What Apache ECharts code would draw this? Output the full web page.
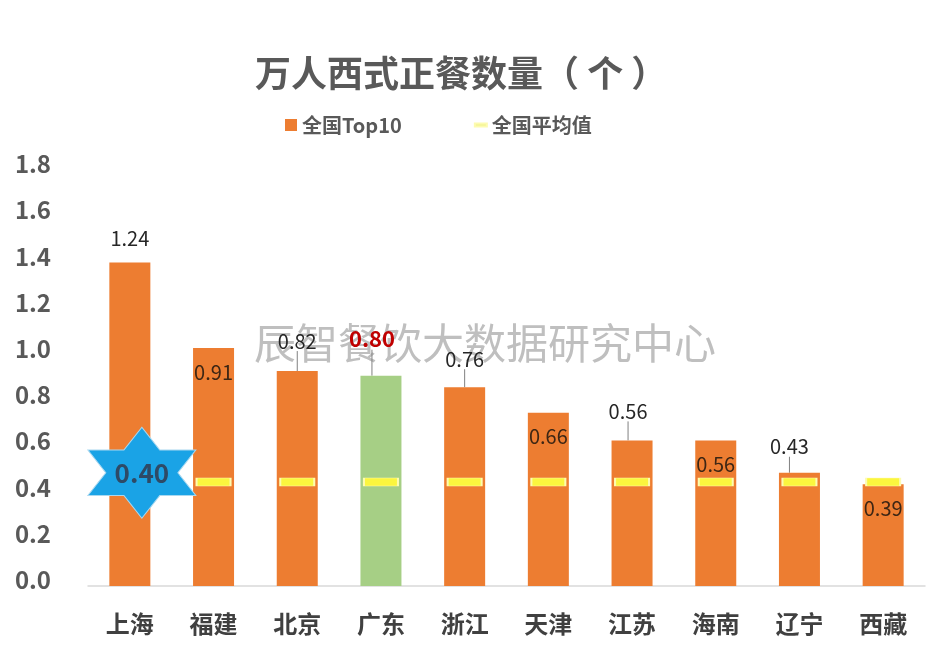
<!DOCTYPE html>
<html>
<head>
<meta charset="utf-8">
<script src="https://cdn.jsdelivr.net/npm/echarts@6/dist/echarts.min.js"></script>
<style>
html,body{margin:0;padding:0;background:#fff;}
#c{width:942px;height:655px;}
</style>
</head>
<body>
<div id="c"></div>
<script>
const categories = ['上海','福建','北京','广东','浙江','天津','江苏','海南','辽宁','西藏'];
const barValues = [1.40, 1.03, 0.93, 0.91, 0.86, 0.75, 0.63, 0.63, 0.49, 0.44];
const barLabels = ['1.24','0.91','0.82','0.80','0.76','0.66','0.56','0.56','0.43','0.39'];
const avgValues = [0.45, 0.45, 0.45, 0.45, 0.45, 0.45, 0.45, 0.45, 0.45, 0.45];
const starCategory = '上海';
const starValue = 0.49;
const starLabel = '0.40';
const yMin = 0, yMax = 1.8, yInterval = 0.2;

const FONT = '"Noto Sans CJK SC", "Noto Sans", sans-serif';
const ORANGE = '#ED7D31';
const GREEN = '#A6CF85';

// label layout per bar (style only)
const labelCfg = [
  {pos:'top', dx:0, dy:-9, line:false},
  {pos:'insideTop'},
  {pos:'top', dx:0, dy:-15, line:true},
  {pos:'top', dx:-9, dy:-21, line:true, red:true},
  {pos:'top', dx:0, dy:-13, line:true},
  {pos:'insideTop'},
  {pos:'top', dx:-4, dy:-14, line:true},
  {pos:'insideTop'},
  {pos:'top', dx:-10, dy:-11, line:true},
  {pos:'insideTop'}
];

const barData = barValues.map((v, i) => {
  const c = labelCfg[i];
  return {
    value: v,
    itemStyle: {color: categories[i] === '广东' ? GREEN : ORANGE},
    label: {
      show: true,
      position: c.pos,
      distance: c.pos === 'insideTop' ? 14 : 5,
      formatter: barLabels[i],
      fontFamily: FONT,
      fontSize: c.red ? 22 : 20,
      fontWeight: c.red ? 'bold' : 'normal',
      color: c.red ? '#C00000' : (c.pos === 'insideTop' ? '#3d2614' : '#262626')
    },
    labelLine: {show: !!c.line, lineStyle: {color: '#808080', width: 1}}
  };
});

const chart = echarts.init(document.getElementById('c'), null, {renderer: 'canvas'});
chart.setOption({
  backgroundColor: '#ffffff',
  animation: false,
  title: {
    text: '万人西式正餐数量（ 个 ）',
    left: 250,
    top: 50,
    textStyle: {fontFamily: FONT, fontSize: 36, fontWeight: 'bold', color: '#595959'}
  },
  legend: {
    left: 280,
    top: 110,
    itemGap: 72,
    itemWidth: 12,
    itemHeight: 12,
    textStyle: {fontFamily: FONT, fontSize: 20, fontWeight: 'bold', color: '#595959'},
    data: [
      {name: '全国Top10', icon: 'rect', itemStyle: {color: ORANGE}},
      {name: '全国平均值', icon: 'path://M0,0 L12,0 L12,3 L0,3 Z', itemStyle: {color: '#EEF08A'}}
    ]
  },
  graphic: [{
    type: 'text',
    left: 254,
    top: 322,
    z: 1,
    style: {
      text: '辰智餐饮大数据研究中心',
      font: 'normal 42px ' + FONT,
      fill: '#bfbfbf'
    }
  }],
  grid: {left: 88, right: 17, top: 170, bottom: 69, containLabel: false},
  xAxis: {
    type: 'category',
    data: categories,
    axisLine: {lineStyle: {color: '#D9D9D9', width: 1.5}},
    axisTick: {show: false},
    axisLabel: {fontFamily: FONT, fontSize: 24, fontWeight: 'bold', color: '#404040', margin: 26}
  },
  yAxis: {
    type: 'value',
    min: yMin,
    max: yMax,
    interval: yInterval,
    axisLine: {show: false},
    axisTick: {show: false},
    splitLine: {show: false},
    axisLabel: {
      fontFamily: FONT, fontSize: 24, fontWeight: 'bold', color: '#595959', margin: 37,
      verticalAlign: 'bottom',
      lineHeight: 12,
      formatter: v => v.toFixed(1)
    }
  },
  series: [
    {
      name: '全国Top10',
      type: 'bar',
      barWidth: 41,
      data: barData,
      z: 2,
      labelLayout: function (p) {
        const c = labelCfg[p.dataIndex];
        if (c.pos === 'top') return {dx: c.dx, dy: c.dy};
        return {};
      }
    },
    {
      name: '全国平均值',
      type: 'scatter',
      data: avgValues,
      symbol: 'rect',
      symbolSize: [34, 8],
      itemStyle: {color: '#FBF63E', borderColor: '#FDFBB0', borderWidth: 1, opacity: 1},
      z: 3
    },
    {
      name: 'star',
      type: 'scatter',
      data: [[starCategory, starValue]],
      symbol: 'path://M50,0 L64.4,25 L93.3,25 L78.9,50 L93.3,75 L64.4,75 L50,100 L35.6,75 L6.7,75 L21.1,50 L6.7,25 L35.6,25 Z',
      symbolSize: [108, 91],
      symbolOffset: [12, 0],
      itemStyle: {color: '#1AA3E6', borderColor: '#A9D8F0', borderWidth: 1, opacity: 1},
      label: {
        show: true,
        position: 'inside',
        formatter: starLabel,
        fontFamily: FONT,
        fontSize: 26,
        fontWeight: 'bold',
        color: '#2E4A66'
      },
      z: 5
    }
  ]
});
</script>
</body>
</html>
